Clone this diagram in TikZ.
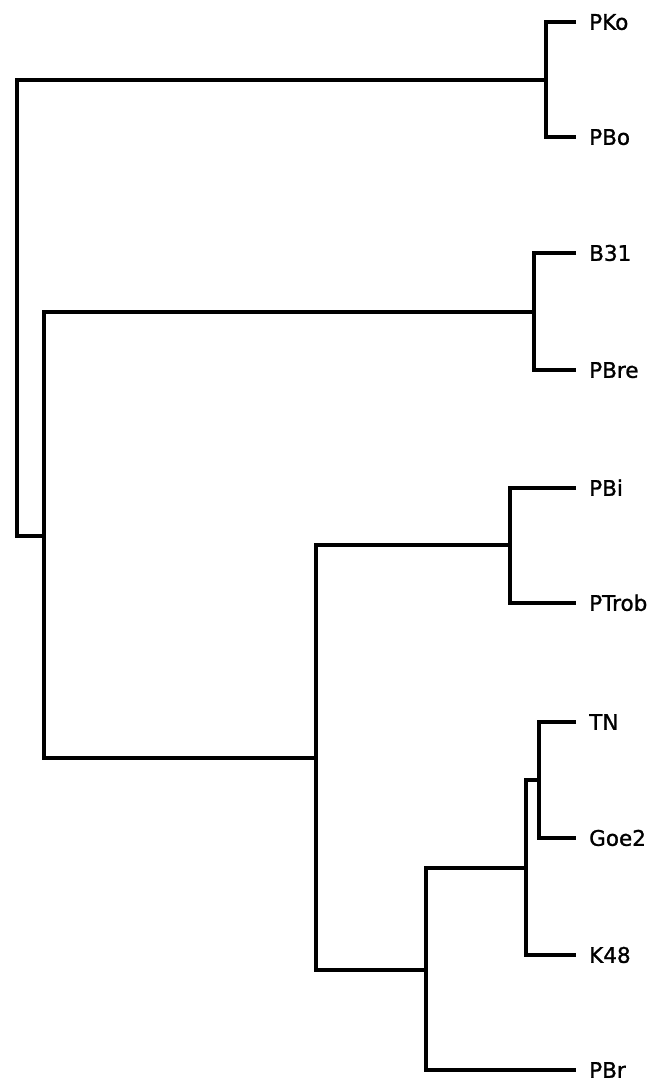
\documentclass[tikz,border=0pt]{standalone}
\usepackage{fontspec}
\setmainfont{DejaVu Sans}[FakeBold=1.2]
\begin{document}
\begin{tikzpicture}[x=1pt,y=-1pt,
  branch/.style={line width=3.2pt,line join=miter},
  leaf/.style={anchor=west,inner xsep=13pt,inner ysep=0pt,
    font=\fontsize{21.5}{24}\selectfont,text height=15.6pt,text depth=0pt}]
\useasboundingbox (0,0) rectangle (671,1083);
% leaf labels, attached at the end of their branches
\node[leaf] (PKo)   at (576,22)   {PKo};
\node[leaf] (PBo)   at (576,137)  {PBo};
\node[leaf] (B31)   at (576,253)  {B31};
\node[leaf] (PBre)  at (576,370)  {PBre};
\node[leaf] (PBi)   at (576,488)  {PBi};
\node[leaf] (PTrob) at (576,603)  {PTrob};
\node[leaf] (TN)    at (576,722)  {TN};
\node[leaf] (Goe2)  at (576,838)  {Goe2};
\node[leaf] (K48)   at (576,955)  {K48};
\node[leaf] (PBr)   at (576,1070) {PBr};
% internal junctions of the tree
\coordinate (j1) at (546,80);
\coordinate (j2) at (534,312);
\coordinate (j3) at (510,545);
\coordinate (j4) at (539,780);
\coordinate (j5) at (526,868);
\coordinate (j6) at (426,970);
\coordinate (j7) at (316,758);
\coordinate (j8) at (44,536);
\coordinate (j9) at (17,308);
% branches
\draw[branch] (PKo.west) -| (j1) |- (PBo.west);
\draw[branch] (B31.west) -| (j2) |- (PBre.west);
\draw[branch] (PBi.west) -| (j3) |- (PTrob.west);
\draw[branch] (TN.west) -| (j4) |- (Goe2.west);
\draw[branch] (j4) -| (j5) |- (K48.west);
\draw[branch] (j5) -| (j6) |- (PBr.west);
\draw[branch] (j3) -| (j7) |- (j6);
\draw[branch] (j2) -| (j8) |- (j7);
\draw[branch] (j1) -| (j9) |- (j8);
\end{tikzpicture}
\end{document}
